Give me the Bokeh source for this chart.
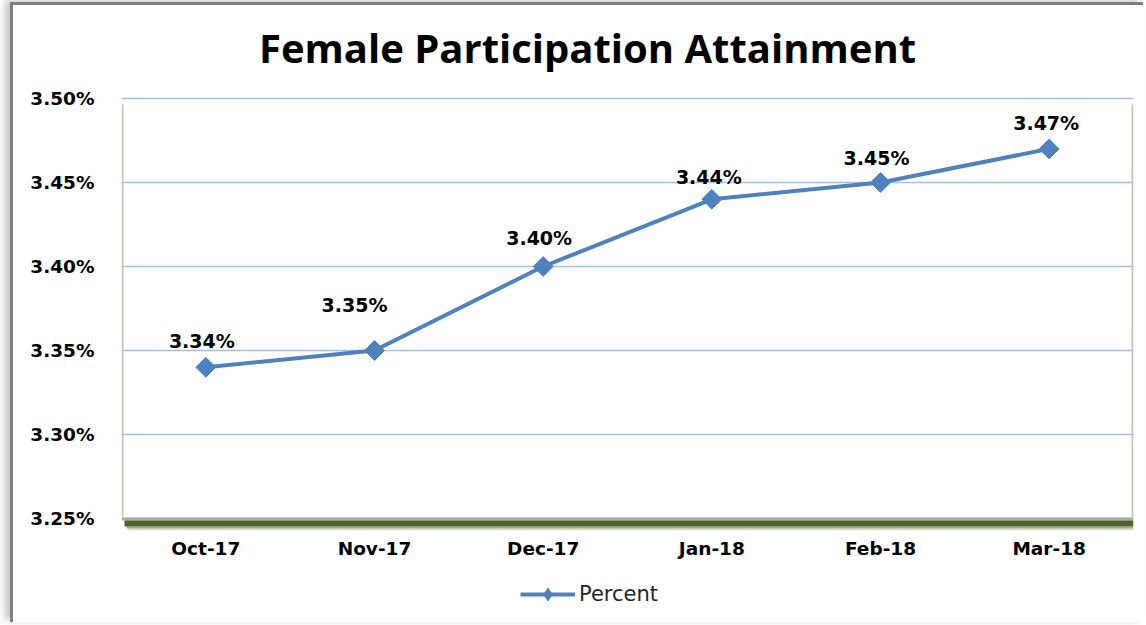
import math
from bokeh.plotting import figure
from bokeh.models import (Range1d, FixedTicker, PrintfTickFormatter, BoxAnnotation,
                          Legend, LegendItem, Label)
from bokeh.core.properties import value
from bokeh.embed import file_html
from bokeh.resources import INLINE

# ---- data ----
months = ["Oct-17", "Nov-17", "Dec-17", "Jan-18", "Feb-18", "Mar-18"]
percent = [3.34, 3.35, 3.40, 3.44, 3.45, 3.47]
y_ticks = [3.25, 3.30, 3.35, 3.40, 3.45, 3.50]
series_name = "Percent"
title_text = "Female Participation Attainment"

# label nudges in screen pixels (layout only)
label_dx = [-4, -20, -4, -3, -4, -3]
label_dy = [-26, -46, -29, -22, -25, -26]

xs = list(range(len(months)))
labels = [f"{v:.2f}%" for v in percent]

PX_PER_UNIT_Y = 84 / 0.05          # pixels per y unit
y_lo = y_ticks[0] - 97 / PX_PER_UNIT_Y
y_hi = y_ticks[-1] + 93 / PX_PER_UNIT_Y

p = figure(width=1133, height=620, output_backend="svg", toolbar_location=None,
           x_range=Range1d(-0.5, len(months) - 0.5), y_range=Range1d(y_lo, y_hi),
           min_border_left=108, min_border_right=13, min_border_top=0,
           min_border_bottom=10)
p.styles = {"margin-left": "10px", "margin-top": "2px",
            "border-left": "3px solid #7f7f7f", "border-top": "3px solid #7f7f7f",
            "box-shadow": "-5px -2px 7px #c4c4c4"}

p.background_fill_color = "white"
p.border_fill_color = "white"
p.outline_line_color = None

# title, inside the (extended) frame
p.add_layout(Label(text=title_text, x=466, y=568, x_units="screen", y_units="screen",
                   text_align="center", text_baseline="middle", text_font="Open Sans",
                   text_font_style="bold", text_font_size="40px", text_color="black"))

# axes
p.yaxis.ticker = FixedTicker(ticks=y_ticks)
p.yaxis.formatter = PrintfTickFormatter(format="%.2f%%")
ax = p.yaxis[0]
ax.axis_line_color = None
ax.major_tick_line_color = None
ax.minor_tick_line_color = None
ax.major_label_text_font = "DejaVu Sans"
ax.major_label_text_font_style = "bold"
ax.major_label_text_font_size = "18.5px"
ax.major_label_text_color = "black"
ax.major_label_standoff = 21
p.xaxis.visible = False

p.xgrid.grid_line_color = None
p.ygrid.grid_line_color = "#a7bfe0"
p.ygrid.grid_line_width = 1.6

# plot-area edges and shadow
px_x = 1 / (1012 / len(months))
px_y = 1 / PX_PER_UNIT_Y
base = y_ticks[0]
p.add_layout(BoxAnnotation(top=base + 1 * px_y, bottom=base - 2 * px_y,
                           fill_color="#a9aaa6", fill_alpha=1, line_color=None))
p.add_layout(BoxAnnotation(top=base - 2 * px_y, bottom=base - 8 * px_y,
                           left=-0.5 + 3 * px_x,
                           fill_color="#4f6228", fill_alpha=1, line_color=None))
p.add_layout(BoxAnnotation(top=base - 8 * px_y, bottom=base - 10 * px_y,
                           left=-0.5 + 5 * px_x,
                           fill_color="#4f6228", fill_alpha=0.55, line_color=None))
p.add_layout(BoxAnnotation(top=base - 10 * px_y, bottom=base - 12 * px_y,
                           left=-0.5 + 7 * px_x,
                           fill_color="#4f6228", fill_alpha=0.2, line_color=None))
p.add_layout(BoxAnnotation(left=-0.5, right=-0.5 + 2 * px_x,
                           top=y_ticks[-1] - 6 * px_y, bottom=base,
                           fill_color="#c3c8b2", fill_alpha=1, line_color=None))
p.add_layout(BoxAnnotation(left=len(months) - 0.5 - 2 * px_x, right=len(months) - 0.5,
                           top=y_ticks[-1] - 6 * px_y, bottom=base,
                           fill_color="#c3c8b2", fill_alpha=1, line_color=None))

# category labels (x axis), drawn below the plot-area bottom
p.text(x=xs, y=[base] * len(months), text=months, y_offset=30,
       text_align="center", text_baseline="middle", text_font=value("DejaVu Sans"),
       text_font_style="bold", text_font_size="18.5px", text_color="black")

# series
line_r = p.line(xs, percent, line_color="#4f81bd", line_width=4)
# diamond marks (shown in the legend), fully covered by the rotated squares on the plot
legend_mark = p.scatter(xs, percent, marker="diamond", size=14,
                        fill_color="#4f81bd", line_color="#4f81bd")
mark_r = p.scatter(xs, percent, marker="square", angle=math.pi / 4, size=14,
                   fill_color="#4f81bd", line_color="#4f81bd")

p.text(x=xs, y=percent, text=labels, x_offset=label_dx, y_offset=label_dy,
       text_align="center", text_baseline="middle", text_font=value("DejaVu Sans"),
       text_font_style="bold", text_font_size="19px", text_color="black")

legend = Legend(items=[LegendItem(label=series_name, renderers=[line_r, legend_mark])],
                location=(399, 5), orientation="horizontal")
legend.border_line_color = None
legend.background_fill_alpha = 0
legend.padding = 0
legend.margin = 0
legend.glyph_width = 55
legend.glyph_height = 32
legend.label_standoff = 4
legend.label_text_font = "DejaVu Sans"
legend.label_text_font_size = "21px"
legend.label_text_color = "#262626"
p.add_layout(legend)

open("out.html", "w").write(file_html(p, INLINE))
